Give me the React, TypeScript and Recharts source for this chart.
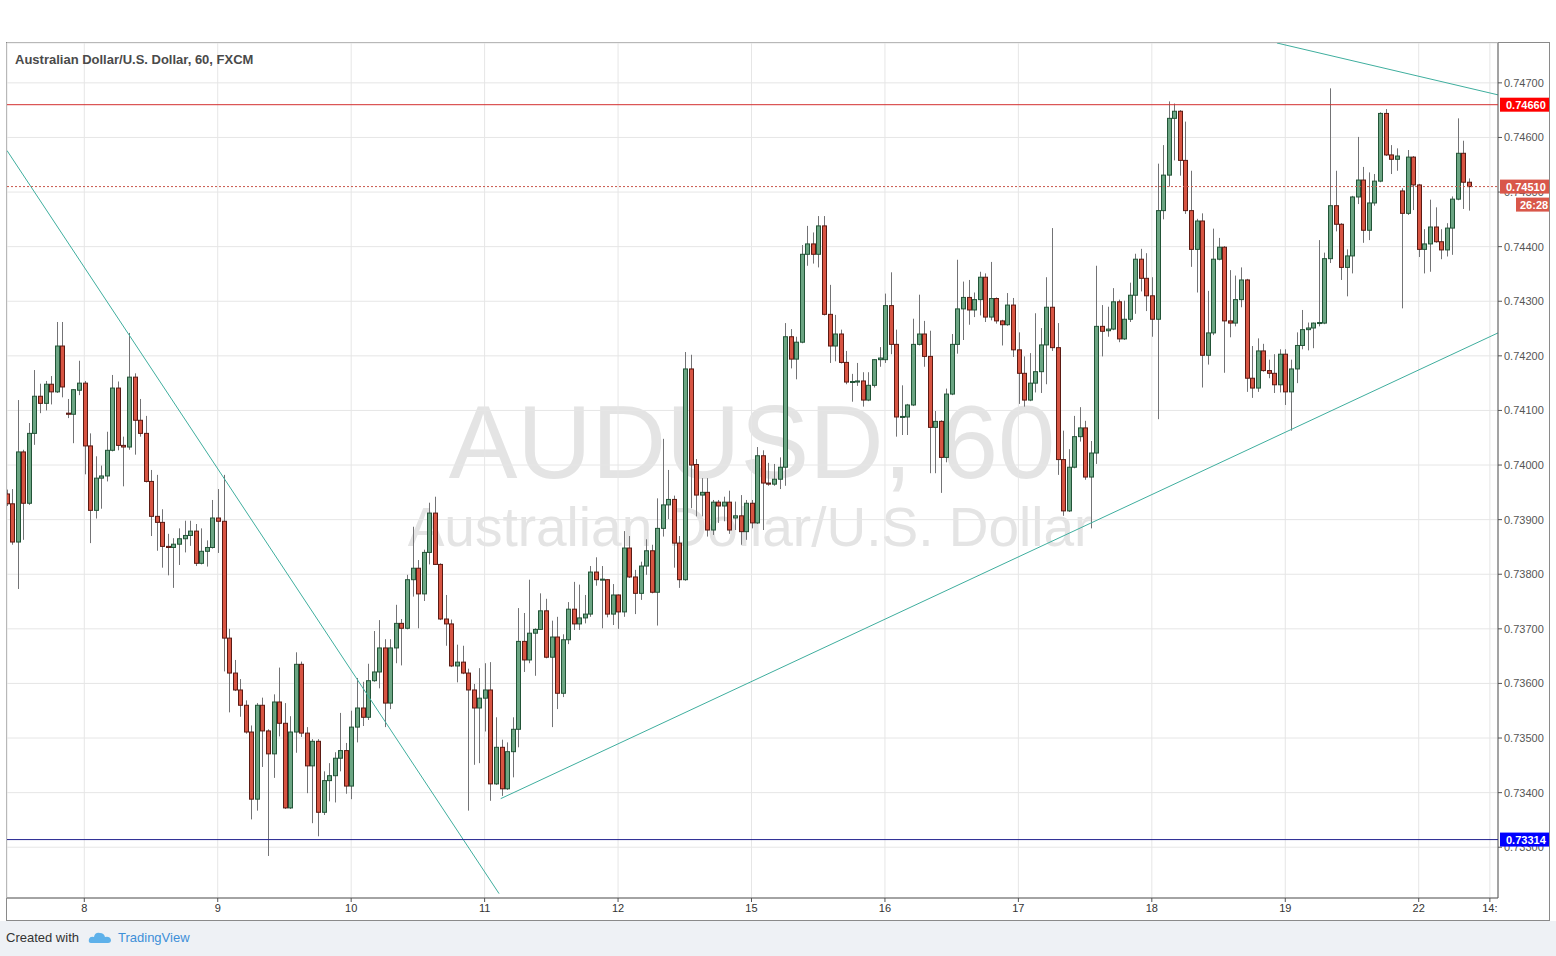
import { Bar, CartesianGrid, ComposedChart, ReferenceLine, XAxis, YAxis } from "recharts";

// hourly AUD/USD candles, oldest first
const opens = [
	0.73947, 0.73929, 0.73859, 0.74024, 0.7393, 0.74058, 0.74126, 0.74113, 0.74148, 0.74134, 0.74218, 0.74095,
	0.74093, 0.74137, 0.7415, 0.74035, 0.73917, 0.73976, 0.7398, 0.74027, 0.74141, 0.74036, 0.74033, 0.74161,
	0.74082, 0.74058, 0.7397, 0.73906, 0.73895, 0.73851, 0.73849, 0.73855, 0.73865, 0.73871, 0.73879, 0.7382,
	0.73842, 0.73849, 0.73903, 0.73897, 0.73683, 0.73619, 0.73588, 0.7356, 0.73511, 0.73388, 0.7356, 0.73513,
	0.73471, 0.73566, 0.73527, 0.73372, 0.73511, 0.73635, 0.73509, 0.73449, 0.73494, 0.73364, 0.73422, 0.73431,
	0.73463, 0.73477, 0.73412, 0.7352, 0.73555, 0.73538, 0.73605, 0.73621, 0.73665, 0.73564, 0.73665, 0.7371,
	0.73701, 0.7379, 0.73811, 0.73764, 0.7384, 0.73912, 0.73818, 0.73718, 0.73709, 0.73632, 0.73639, 0.73619,
	0.73588, 0.73555, 0.73573, 0.73588, 0.73416, 0.73483, 0.73407, 0.73475, 0.73516, 0.73677, 0.73643, 0.73692,
	0.73699, 0.73733, 0.73648, 0.73685, 0.73582, 0.7368, 0.73736, 0.73709, 0.7372, 0.73727, 0.73804, 0.7379,
	0.7379, 0.73727, 0.73762, 0.73731, 0.73848, 0.73795, 0.73765, 0.73815, 0.73843, 0.73767, 0.73884, 0.73927,
	0.73937, 0.73857, 0.7379, 0.74176, 0.74001, 0.73945, 0.7395, 0.73881, 0.73932, 0.73925, 0.73932, 0.73903,
	0.73907, 0.73878, 0.7393, 0.73894, 0.74017, 0.73967, 0.73965, 0.73974, 0.73996, 0.74235, 0.74194, 0.74225,
	0.74386, 0.74405, 0.74386, 0.74438, 0.74276, 0.74218, 0.7424, 0.74188, 0.74152, 0.74152, 0.74154, 0.74119,
	0.74146, 0.74193, 0.74193, 0.74292, 0.74221, 0.74088, 0.74088, 0.7411, 0.74221, 0.7424, 0.74199, 0.74069,
	0.7408, 0.74014, 0.7413, 0.74221, 0.74286, 0.74307, 0.74284, 0.74303, 0.74344, 0.74271, 0.74305, 0.74264,
	0.74257, 0.74293, 0.74211, 0.74168, 0.74119, 0.7415, 0.74171, 0.7422, 0.74289, 0.74215, 0.7401, 0.73916,
	0.73996, 0.74052, 0.74068, 0.73978, 0.74022, 0.74254, 0.74246, 0.74249, 0.74299, 0.74231, 0.74267, 0.74311,
	0.74377, 0.74342, 0.7431, 0.74267, 0.74466, 0.74531, 0.74635, 0.74648, 0.74558, 0.74466, 0.74395, 0.74447,
	0.74201, 0.74242, 0.74377, 0.74399, 0.74264, 0.7426, 0.74303, 0.74339, 0.74159, 0.74141, 0.74209, 0.74173,
	0.74168, 0.74147, 0.74203, 0.74134, 0.74176, 0.74219, 0.74248, 0.74251, 0.7426, 0.7426, 0.74378, 0.74475,
	0.74441, 0.74362, 0.74383, 0.74491, 0.74522, 0.7443, 0.7448, 0.7452, 0.74644, 0.74568, 0.7456, 0.74502,
	0.74461, 0.74564, 0.74513, 0.74395, 0.74405, 0.74436, 0.74409, 0.74394, 0.74434, 0.74487, 0.74571, 0.74518,
];
const highs = [
	0.73955, 0.73956, 0.74119, 0.74028, 0.74077, 0.74174, 0.74149, 0.74154, 0.74163, 0.74262, 0.74262, 0.74121,
	0.74139, 0.74191, 0.74154, 0.74058, 0.74016, 0.73999, 0.74061, 0.74165, 0.74153, 0.74052, 0.74242, 0.74168,
	0.74121, 0.7409, 0.73991, 0.73982, 0.73919, 0.73874, 0.73866, 0.73884, 0.73898, 0.73898, 0.73892, 0.73884,
	0.73862, 0.73936, 0.73956, 0.73982, 0.737, 0.73643, 0.73608, 0.73569, 0.73523, 0.73564, 0.73574, 0.73516,
	0.7358, 0.73629, 0.73564, 0.7354, 0.73657, 0.7364, 0.7352, 0.73498, 0.73498, 0.73439, 0.73454, 0.73474,
	0.73546, 0.73491, 0.7355, 0.7361, 0.73603, 0.73636, 0.73696, 0.73716, 0.73681, 0.73681, 0.73744, 0.73718,
	0.73799, 0.73887, 0.73826, 0.73845, 0.73931, 0.73942, 0.7382, 0.73762, 0.73717, 0.73671, 0.73669, 0.73627,
	0.73599, 0.73628, 0.73637, 0.73639, 0.73538, 0.73497, 0.73492, 0.73538, 0.73738, 0.73729, 0.7379, 0.73701,
	0.73765, 0.73755, 0.73715, 0.73722, 0.7369, 0.73749, 0.73786, 0.73781, 0.73762, 0.73815, 0.73831, 0.73815,
	0.73791, 0.73782, 0.73763, 0.73879, 0.7387, 0.73808, 0.73823, 0.73864, 0.73854, 0.73939, 0.74048, 0.73991,
	0.73944, 0.7387, 0.74207, 0.74202, 0.74011, 0.73976, 0.73976, 0.73936, 0.73936, 0.73942, 0.73953, 0.73933,
	0.73945, 0.73936, 0.73936, 0.74033, 0.74027, 0.74004, 0.74002, 0.74014, 0.7426, 0.74249, 0.74235, 0.74403,
	0.74438, 0.74426, 0.74456, 0.74456, 0.7433, 0.74275, 0.74248, 0.74209, 0.74167, 0.74187, 0.7417, 0.7417,
	0.74194, 0.74216, 0.74314, 0.74353, 0.74248, 0.74146, 0.74112, 0.74268, 0.74312, 0.74264, 0.74246, 0.74099,
	0.74082, 0.7414, 0.7424, 0.74376, 0.74336, 0.74339, 0.74316, 0.74354, 0.74351, 0.74372, 0.74307, 0.74266,
	0.74315, 0.74306, 0.74243, 0.74199, 0.74205, 0.74278, 0.74251, 0.74344, 0.74434, 0.7426, 0.74063, 0.74029,
	0.7409, 0.74106, 0.74081, 0.74044, 0.74365, 0.74293, 0.7429, 0.74324, 0.74303, 0.74301, 0.74334, 0.74387,
	0.74396, 0.74388, 0.74344, 0.74552, 0.74586, 0.74666, 0.74662, 0.7465, 0.74629, 0.74539, 0.74451, 0.74461,
	0.74319, 0.74433, 0.74416, 0.74401, 0.74357, 0.74347, 0.74362, 0.74341, 0.74218, 0.74232, 0.74222, 0.74193,
	0.74203, 0.74212, 0.74212, 0.74193, 0.74243, 0.74284, 0.74261, 0.74261, 0.74412, 0.74389, 0.7469, 0.74539,
	0.74443, 0.74395, 0.74493, 0.74601, 0.74546, 0.74536, 0.74533, 0.74646, 0.74652, 0.74586, 0.7458, 0.74507,
	0.74577, 0.74566, 0.74515, 0.74432, 0.74486, 0.74472, 0.74432, 0.74443, 0.74492, 0.74635, 0.74594, 0.74525,
];
const lows = [
	0.73925, 0.73854, 0.73773, 0.73863, 0.73927, 0.74037, 0.74095, 0.741, 0.74111, 0.74132, 0.74124, 0.74086,
	0.7404, 0.74128, 0.73983, 0.73857, 0.73902, 0.7392, 0.7397, 0.74025, 0.74027, 0.73961, 0.74028, 0.74019,
	0.74052, 0.73968, 0.7387, 0.73843, 0.73812, 0.73798, 0.73775, 0.73817, 0.7384, 0.73852, 0.73815, 0.73818,
	0.73814, 0.73847, 0.73839, 0.73622, 0.73547, 0.73586, 0.73539, 0.73508, 0.73351, 0.73367, 0.73447, 0.73284,
	0.73427, 0.73503, 0.7337, 0.7337, 0.73473, 0.73502, 0.73399, 0.73344, 0.7332, 0.73359, 0.73384, 0.73382,
	0.73439, 0.73398, 0.73388, 0.73492, 0.73522, 0.73533, 0.73603, 0.73591, 0.7352, 0.73553, 0.73637, 0.73633,
	0.73699, 0.73759, 0.73701, 0.73751, 0.73818, 0.73817, 0.73716, 0.73669, 0.7363, 0.73602, 0.73617, 0.73367,
	0.73451, 0.73454, 0.73512, 0.73385, 0.73414, 0.73394, 0.73405, 0.73428, 0.73483, 0.73621, 0.73637, 0.73614,
	0.73698, 0.73646, 0.7352, 0.73553, 0.73575, 0.73672, 0.73698, 0.73698, 0.7371, 0.73722, 0.73779, 0.73701,
	0.73721, 0.73707, 0.737, 0.73722, 0.73793, 0.73727, 0.73753, 0.73799, 0.73765, 0.73706, 0.73869, 0.73901,
	0.73812, 0.73775, 0.73788, 0.73921, 0.73906, 0.73906, 0.73869, 0.73872, 0.73894, 0.73897, 0.73874, 0.73881,
	0.73854, 0.73863, 0.73884, 0.73892, 0.73881, 0.73962, 0.73962, 0.73956, 0.73962, 0.74177, 0.74157, 0.74223,
	0.74365, 0.74369, 0.74362, 0.74274, 0.74187, 0.7419, 0.74186, 0.74148, 0.74116, 0.74145, 0.74107, 0.74117,
	0.74142, 0.7418, 0.74187, 0.74203, 0.74052, 0.74055, 0.74055, 0.74108, 0.74219, 0.7418, 0.73985, 0.73985,
	0.73949, 0.74005, 0.74128, 0.74204, 0.74229, 0.74257, 0.74271, 0.74274, 0.74262, 0.74265, 0.74259, 0.74219,
	0.74255, 0.74198, 0.74112, 0.74107, 0.74117, 0.74133, 0.74132, 0.74148, 0.74209, 0.73982, 0.73907, 0.73914,
	0.73994, 0.74043, 0.73973, 0.73884, 0.74002, 0.74199, 0.74235, 0.74247, 0.74225, 0.74229, 0.74262, 0.74277,
	0.74318, 0.74282, 0.74235, 0.74084, 0.7445, 0.7451, 0.74558, 0.7453, 0.7446, 0.74363, 0.74316, 0.74142,
	0.74184, 0.74238, 0.74375, 0.74169, 0.74234, 0.74254, 0.74289, 0.74134, 0.74123, 0.74134, 0.74171, 0.74159,
	0.74132, 0.74133, 0.7411, 0.74063, 0.7415, 0.74212, 0.7421, 0.74214, 0.74254, 0.74258, 0.7437, 0.74428,
	0.74339, 0.74309, 0.74351, 0.74478, 0.74407, 0.74412, 0.74475, 0.74518, 0.74566, 0.74533, 0.74539, 0.74287,
	0.74458, 0.74467, 0.74381, 0.74351, 0.74354, 0.74407, 0.74377, 0.74382, 0.74385, 0.74485, 0.74469, 0.74466,
];
const closes = [
	0.73929, 0.73859, 0.74024, 0.7393, 0.74058, 0.74126, 0.74113, 0.74148, 0.74134, 0.74218, 0.74143, 0.74093,
	0.74138, 0.7415, 0.74035, 0.73917, 0.73976, 0.7398, 0.74027, 0.74141, 0.74036, 0.74033, 0.74161, 0.74082,
	0.74058, 0.7397, 0.73906, 0.73895, 0.73851, 0.73849, 0.73855, 0.73865, 0.73871, 0.73879, 0.7382, 0.73842,
	0.73849, 0.73903, 0.73897, 0.73683, 0.73619, 0.73588, 0.7356, 0.73511, 0.73388, 0.7356, 0.73513, 0.73471,
	0.73566, 0.73527, 0.73372, 0.73511, 0.73635, 0.73509, 0.73449, 0.73494, 0.73364, 0.73422, 0.73431, 0.73463,
	0.73477, 0.73412, 0.7352, 0.73555, 0.73538, 0.73605, 0.73621, 0.73665, 0.73564, 0.73665, 0.7371, 0.73701,
	0.7379, 0.73811, 0.73764, 0.7384, 0.73912, 0.73818, 0.73718, 0.73709, 0.73632, 0.73639, 0.73619, 0.73588,
	0.73555, 0.73573, 0.73588, 0.73416, 0.73483, 0.73407, 0.73475, 0.73516, 0.73677, 0.73643, 0.73692, 0.73699,
	0.73733, 0.73648, 0.73685, 0.73582, 0.7368, 0.73736, 0.73709, 0.7372, 0.73727, 0.73804, 0.7379, 0.73791,
	0.73727, 0.73762, 0.73731, 0.73848, 0.73795, 0.73765, 0.73815, 0.73843, 0.73767, 0.73884, 0.73927, 0.73937,
	0.73857, 0.7379, 0.74176, 0.74, 0.73945, 0.7395, 0.73881, 0.73932, 0.73925, 0.73932, 0.73881, 0.73907,
	0.73878, 0.7393, 0.73894, 0.74017, 0.73967, 0.73965, 0.73974, 0.73996, 0.74235, 0.74194, 0.74225, 0.74386,
	0.74405, 0.74386, 0.74438, 0.74276, 0.74218, 0.7424, 0.74188, 0.74152, 0.74153, 0.74154, 0.74119, 0.74146,
	0.74193, 0.74196, 0.74292, 0.74221, 0.74088, 0.74089, 0.7411, 0.74221, 0.7424, 0.74199, 0.74069, 0.7408,
	0.74014, 0.7413, 0.74221, 0.74286, 0.74307, 0.74284, 0.74303, 0.74344, 0.74271, 0.74305, 0.74264, 0.74257,
	0.74293, 0.74211, 0.74168, 0.74119, 0.7415, 0.74171, 0.7422, 0.74289, 0.74215, 0.7401, 0.73916, 0.73996,
	0.74052, 0.74068, 0.73978, 0.74022, 0.74254, 0.74245, 0.74249, 0.74299, 0.74231, 0.74267, 0.74311, 0.74377,
	0.74342, 0.7431, 0.74267, 0.74466, 0.74531, 0.74635, 0.74648, 0.74558, 0.74466, 0.74395, 0.74447, 0.74201,
	0.74242, 0.74377, 0.74399, 0.74264, 0.7426, 0.74303, 0.74339, 0.74159, 0.74141, 0.74209, 0.74173, 0.74168,
	0.74147, 0.74203, 0.74134, 0.74176, 0.74219, 0.74248, 0.74251, 0.7426, 0.74261, 0.74378, 0.74475, 0.74441,
	0.74362, 0.74383, 0.74491, 0.74522, 0.7443, 0.7448, 0.7452, 0.74644, 0.74568, 0.7456, 0.74566, 0.74461,
	0.74564, 0.74513, 0.74395, 0.74405, 0.74436, 0.74409, 0.74394, 0.74434, 0.74487, 0.74571, 0.74518, 0.7451,
];

// candle index of each midnight, and its label
const dayTicks = [14, 38, 62, 86, 110, 134, 158, 182, 206, 230, 254, 266.8];
const dayLabels = ["8", "9", "10", "11", "12", "15", "16", "17", "18", "19", "22", "14:"];
const priceTicks = [0.733, 0.734, 0.735, 0.736, 0.737, 0.738, 0.739, 0.74, 0.741, 0.742, 0.743, 0.744, 0.745, 0.746, 0.747];

const resistance = 0.7466;
const support = 0.73314;
const lastPrice = 0.7451;

// drawn trend lines: [startIndex, startPrice, endIndex, endPrice]
const falling = [0.1, 0.74576, 88.6, 0.73215];
const rising = [88.9, 0.73389, 268.26, 0.74242];
const upper = [228.5, 0.74773, 268.26, 0.74678];

const xDomain = [0.1, 268.26];
const yDomain = [0.73207, 0.74773];

const data = opens.map((open, i) => ({
	i,
	open,
	high: highs[i],
	low: lows[i],
	close: closes[i],
	range: [lows[i], highs[i]],
}));

const font = "'Liberation Sans', Arial, sans-serif";

const Candle = (props: any) => {
	const { x, y, width, height, payload } = props;
	if (!payload) return null;
	const { open, close, high, low } = payload;
	const top = Math.min(y, y + height);
	const bottom = Math.max(y, y + height);
	const k = high > low ? (bottom - top) / (high - low) : 0;
	const cx = Math.round(x + width / 2) + 0.5;
	const yo = top + (high - open) * k;
	const yc = top + (high - close) * k;
	const up = close >= open;
	return (
		<g>
			<line x1={cx} x2={cx} y1={top} y2={bottom} stroke="#737375" />
			<rect
				x={cx - 2}
				y={Math.min(yo, yc)}
				width={4}
				height={Math.max(1, Math.abs(yc - yo))}
				fill={up ? "#6ba583" : "#d75442"}
				stroke={up ? "#225437" : "#5b1a13"}
			/>
		</g>
	);
};

const tag = (text: string, fill: string, extra?: string) => (props: any) => {
	const { viewBox } = props;
	if (!viewBox) return null;
	const x = viewBox.x + viewBox.width;
	const y = viewBox.y;
	return (
		<g>
			<rect x={x + 2} y={y - 7} width={49} height={14} fill={fill} />
			<text x={x + 8} y={y + 4} fill="#fff" fontSize={11} fontWeight="bold" fontFamily={font}>
				{text}
			</text>
			{extra && (
				<g>
					<rect x={x + 18} y={y + 11} width={33} height={14} fill={fill} />
					<text x={x + 22} y={y + 22} fill="#fff" fontSize={11} fontWeight="bold" fontFamily={font}>
						{extra}
					</text>
				</g>
			)}
		</g>
	);
};

const seg = (s: number[]) => [
	{ x: s[0], y: s[1] },
	{ x: s[2], y: s[3] },
];

const App = () => {
	return (
		<div style={{ position: "absolute", left: 0, top: 0, width: 1556, height: 956, background: "#fff", overflow: "hidden" }}>
			<div
				style={{
					position: "absolute",
					left: 6,
					top: 42,
					width: 1544,
					height: 879,
					border: "1px solid #8a8a8a",
					boxSizing: "border-box",
				}}
			/>
			<svg style={{ position: "absolute", left: 0, top: 0 }} width={1556} height={956}>
				<text x={752} y={478} textAnchor="middle" fontSize={103} fill="#e4e4e4" fontFamily={font}>
					AUDUSD, 60
				</text>
				<text x={750} y={546} textAnchor="middle" fontSize={55} fill="#e4e4e4" fontFamily={font}>
					Australian Dollar/U.S. Dollar
				</text>
			</svg>
			<div style={{ position: "absolute", left: 0, top: 42 }}>
				<ComposedChart width={1556} height={878} data={data} margin={{ top: 1, right: 7, left: 7, bottom: 0 }}>
					<CartesianGrid stroke="#e6e6e6" />
					<XAxis
						dataKey="i"
						type="number"
						domain={xDomain}
						allowDataOverflow
						ticks={dayTicks}
						tickFormatter={(v) => dayLabels[dayTicks.indexOf(v)] ?? ""}
						height={22}
						tickSize={4}
						axisLine={{ stroke: "#555" }}
						tickLine={{ stroke: "#555" }}
						tick={{ fill: "#333", fontSize: 11, fontFamily: font }}
						interval={0}
					/>
					<YAxis
						orientation="right"
						type="number"
						domain={yDomain}
						allowDataOverflow
						ticks={priceTicks}
						tickFormatter={(v) => v.toFixed(5)}
						width={51}
						tickSize={4}
						axisLine={{ stroke: "#555" }}
						tickLine={{ stroke: "#555" }}
						tick={{ fill: "#555", fontSize: 11, fontFamily: font, textAnchor: "start" }}
						interval={0}
					/>
					<Bar dataKey="range" shape={Candle} barSize={4} isAnimationActive={false} />
					<ReferenceLine segment={seg(falling)} stroke="#3fae9e" ifOverflow="hidden" />
					<ReferenceLine segment={seg(rising)} stroke="#3fae9e" ifOverflow="hidden" />
					<ReferenceLine segment={seg(upper)} stroke="#3fae9e" ifOverflow="hidden" />
				</ComposedChart>
			</div>
			{/* second layer so the price tags cover the axis tick labels */}
			<div style={{ position: "absolute", left: 0, top: 42 }}>
				<ComposedChart width={1556} height={878} data={data} margin={{ top: 1, right: 58, left: 7, bottom: 22 }}>
					<XAxis dataKey="i" type="number" domain={xDomain} allowDataOverflow hide />
					<YAxis type="number" domain={yDomain} allowDataOverflow hide />
					<ReferenceLine y={resistance} stroke="#d32f2f" label={tag("0.74660", "#ff0000")} />
					<ReferenceLine
						y={lastPrice}
						stroke="#c9574b"
						strokeDasharray="2 2"
						label={tag("0.74510", "#d9574a", "26:28")}
					/>
					<ReferenceLine y={support} stroke="#22228f" label={tag("0.73314", "#0000ff")} />
				</ComposedChart>
			</div>
			<div
				style={{
					position: "absolute",
					left: 15,
					top: 52,
					fontFamily: font,
					fontSize: 13,
					fontWeight: "bold",
					color: "#4a4a4a",
				}}
			>
				Australian Dollar/U.S. Dollar, 60, FXCM
			</div>
			<div
				style={{
					position: "absolute",
					left: 0,
					top: 921,
					width: 1556,
					height: 35,
					background: "#eef1f5",
					fontFamily: font,
					fontSize: 13,
					color: "#333",
				}}
			>
				<span style={{ position: "absolute", left: 6, top: 9 }}>Created with</span>
				<svg style={{ position: "absolute", left: 88, top: 10 }} width={24} height={14}>
					<path d="M3 12 Q0 12 1 8 Q2 5 6 6 Q7 1 12 2 Q16 2 17 6 Q22 5 23 9 Q23 12 20 12 Z" fill="#5eb1ea" />
				</svg>
				<span style={{ position: "absolute", left: 118, top: 9, color: "#3d8fd8" }}>TradingView</span>
			</div>
		</div>
	);
};

export default App;
